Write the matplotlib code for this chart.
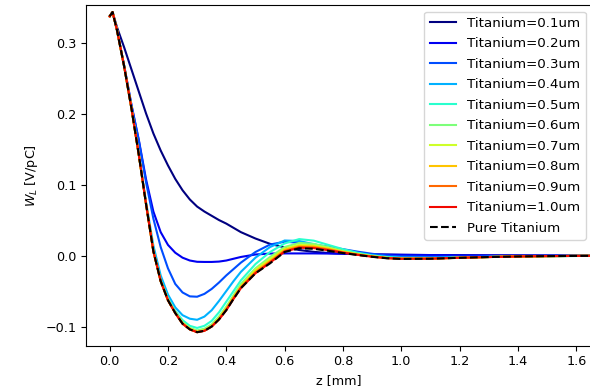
import numpy as np
import matplotlib
matplotlib.use("Agg")
import matplotlib.pyplot as plt

# z positions [mm]
z = [0.0, 0.01, 0.025, 0.05, 0.075, 0.1, 0.125, 0.15, 0.175, 0.2, 0.225, 0.25,
     0.275, 0.3, 0.325, 0.35, 0.375, 0.4, 0.425, 0.45, 0.5, 0.55, 0.6, 0.65,
     0.7, 0.75, 0.8, 0.85, 0.9, 0.95, 1.0, 1.1, 1.2, 1.3, 1.4, 1.5, 1.6, 1.7]

# wake W_L [V/pC] for each titanium thickness
w_01 = [0.337, 0.343, 0.322, 0.293, 0.262, 0.231, 0.200, 0.172, 0.148, 0.127, 0.108, 0.092,
        0.079, 0.069, 0.062, 0.056, 0.050, 0.045, 0.039, 0.033, 0.024, 0.0165, 0.0115, 0.0078,
        0.0052, 0.0036, 0.0026, 0.002, 0.0016, 0.0013, 0.001, 0.0007, 0.0005, 0.0003, 0.0002, 0.0001, 0.0, 0.0]
w_02 = [0.337, 0.343, 0.318, 0.267, 0.212, 0.163, 0.107, 0.062, 0.033, 0.015, 0.004, -0.003,
        -0.007, -0.0088, -0.009, -0.009, -0.0085, -0.007, -0.0045, -0.002, 0.0015, 0.0028, 0.003, 0.003,
        0.003, 0.0028, 0.0025, 0.002, 0.0017, 0.0014, 0.0011, 0.0007, 0.0004, 0.0002, 0.0001, 0.0, 0.0, 0.0]
w_03 = [0.337, 0.343, 0.318, 0.267, 0.211, 0.162, 0.103, 0.052, 0.012, -0.018, -0.040, -0.052,
        -0.0575, -0.058, -0.054, -0.047, -0.038, -0.028, -0.019, -0.010, 0.005, 0.0155, 0.0195, 0.018,
        0.0155, 0.0125, 0.009, 0.0055, 0.0025, 0.0, -0.0012, -0.0018, -0.0016, -0.0012, -0.0009, -0.0006, -0.0004, -0.0003]
w_04 = [0.337, 0.343, 0.318, 0.266, 0.207, 0.143, 0.075, 0.014, -0.028, -0.055, -0.073, -0.084,
        -0.089, -0.0905, -0.086, -0.077, -0.064, -0.050, -0.036, -0.023, -0.003, 0.012, 0.0212, 0.0205,
        0.016, 0.011, 0.0065, 0.003, 0.0, -0.0018, -0.0028, -0.003, -0.0025, -0.0018, -0.0012, -0.0008, -0.0006, -0.0004]
w_05 = [0.337, 0.343, 0.318, 0.266, 0.207, 0.142, 0.073, 0.008, -0.034, -0.060, -0.078, -0.091,
        -0.099, -0.102, -0.099, -0.092, -0.080, -0.065, -0.050, -0.035, -0.012, 0.005, 0.017, 0.0232,
        0.021, 0.015, 0.009, 0.004, 0.0003, -0.0022, -0.0035, -0.0037, -0.003, -0.0021, -0.0014, -0.0009, -0.0006, -0.0004]
w_06 = [0.337, 0.343, 0.318, 0.266, 0.207, 0.142, 0.072, 0.006, -0.036, -0.062, -0.080, -0.094,
        -0.102, -0.1055, -0.103, -0.097, -0.086, -0.072, -0.056, -0.040, -0.018, -0.002, 0.012, 0.0178,
        0.0165, 0.012, 0.0065, 0.0024, -0.0008, -0.003, -0.0041, -0.0041, -0.003, -0.002, -0.0013, -0.0008, -0.0005, -0.0003]
w_07 = [0.337, 0.343, 0.318, 0.266, 0.207, 0.142, 0.072, 0.006, -0.036, -0.063, -0.081, -0.095,
        -0.103, -0.107, -0.105, -0.099, -0.088, -0.074, -0.058, -0.043, -0.020, -0.005, 0.0095, 0.0152,
        0.0142, 0.0105, 0.0058, 0.002, -0.001, -0.0032, -0.0043, -0.0042, -0.0031, -0.0021, -0.0013, -0.0008, -0.0005, -0.0003]
w_08 = [0.337, 0.343, 0.318, 0.266, 0.207, 0.142, 0.072, 0.006, -0.036, -0.063, -0.081, -0.096,
        -0.104, -0.1075, -0.1055, -0.0995, -0.089, -0.075, -0.059, -0.044, -0.022, -0.0075, 0.008, 0.0135,
        0.0128, 0.0095, 0.005, 0.0016, -0.0012, -0.0034, -0.0044, -0.0043, -0.0031, -0.0021, -0.0013, -0.0008, -0.0005, -0.0003]
w_09 = [0.337, 0.343, 0.318, 0.266, 0.207, 0.142, 0.072, 0.006, -0.036, -0.063, -0.081, -0.096,
        -0.104, -0.108, -0.106, -0.100, -0.090, -0.076, -0.060, -0.045, -0.024, -0.009, 0.0065, 0.012,
        0.0115, 0.0085, 0.0045, 0.0013, -0.0014, -0.0035, -0.0045, -0.0043, -0.0031, -0.0021, -0.0013, -0.0008, -0.0005, -0.0003]
w_10 = [0.337, 0.343, 0.318, 0.266, 0.207, 0.142, 0.072, 0.006, -0.036, -0.063, -0.081, -0.096,
        -0.104, -0.108, -0.106, -0.100, -0.090, -0.077, -0.061, -0.046, -0.025, -0.010, 0.0055, 0.011,
        0.0105, 0.0075, 0.004, 0.001, -0.0016, -0.0036, -0.0046, -0.0044, -0.0031, -0.0021, -0.0013, -0.0008, -0.0005, -0.0003]
w_pure = [0.337, 0.343, 0.318, 0.266, 0.207, 0.142, 0.072, 0.006, -0.036, -0.063, -0.081, -0.096,
          -0.104, -0.108, -0.106, -0.100, -0.090, -0.077, -0.061, -0.046, -0.025, -0.011, 0.005, 0.0102,
          0.0095, 0.0067, 0.0035, 0.0008, -0.0018, -0.0038, -0.0048, -0.0045, -0.0032, -0.0021, -0.0013, -0.0008, -0.0005, -0.0003]

thickness = ["0.1", "0.2", "0.3", "0.4", "0.5", "0.6", "0.7", "0.8", "0.9", "1.0"]
wakes = [w_01, w_02, w_03, w_04, w_05, w_06, w_07, w_08, w_09, w_10]

plt.rcParams['font.size'] = 9.2

fig = plt.figure(figsize=(5.9, 3.9), dpi=100)
ax = fig.add_axes([0.1458, 0.1136, 0.858, 0.8736])

colors = plt.cm.jet(np.linspace(0, 0.9, 10))
for t, w, c in zip(thickness, wakes, colors):
    ax.plot(z, w, color=c, lw=1.5, label=f"Titanium={t}um")
ax.plot(z, w_pure, 'k--', lw=1.5, label="Pure Titanium")

ax.set_xlim(-0.081, 1.655)
ax.set_ylim(-0.127, 0.353)
ax.set_xticks([0.0, 0.2, 0.4, 0.6, 0.8, 1.0, 1.2, 1.4, 1.6])
ax.set_yticks([-0.1, 0.0, 0.1, 0.2, 0.3])
ax.set_xlabel("z [mm]")
ax.set_ylabel(r"$W_L$ [V/pC]")
ax.legend(loc="upper right", fontsize=9.6, labelspacing=0.56)

fig.savefig("out.png", dpi=100)
